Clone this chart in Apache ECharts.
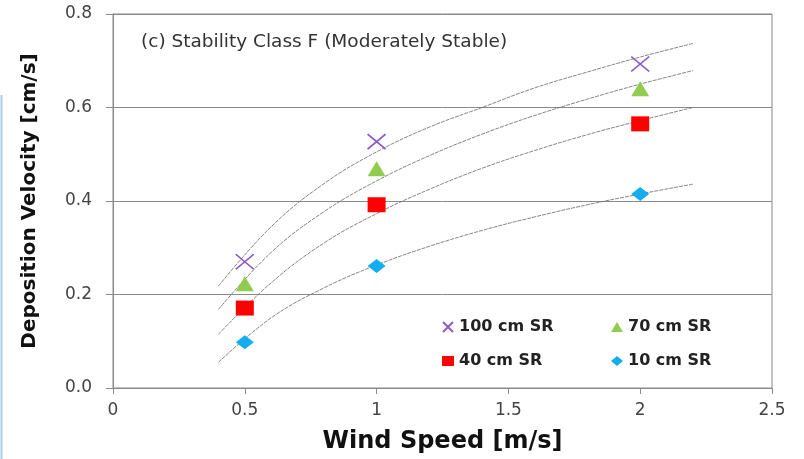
<!DOCTYPE html>
<html>
<head>
<meta charset="utf-8">
<script src="https://cdn.jsdelivr.net/npm/echarts@6/dist/echarts.min.js"></script>
<style>
html,body{margin:0;padding:0;background:#fff;}
#chart{width:804px;height:459px;}
</style>
</head>
<body>
<div id="chart"></div>
<script>
// Measured points
const windSpeed = [0.5, 1, 2];
const sr100 = [0.27, 0.527, 0.693];
const sr70 = [0.223, 0.469, 0.64];
const sr40 = [0.171, 0.392, 0.565];
const sr10 = [0.098, 0.261, 0.415];

// Trend curves
const trendX = [0.4, 0.6, 0.8, 1.0, 1.2, 1.4, 1.6, 1.8, 2.0, 2.2];
const fit100 = [0.218, 0.345, 0.437, 0.505, 0.558, 0.600, 0.642, 0.676, 0.708, 0.737];
const fit70  = [0.168, 0.290, 0.377, 0.443, 0.497, 0.543, 0.583, 0.618, 0.650, 0.679];
const fit40  = [0.115, 0.225, 0.310, 0.373, 0.425, 0.470, 0.508, 0.542, 0.572, 0.600];
const fit10  = [0.055, 0.150, 0.214, 0.263, 0.303, 0.337, 0.366, 0.392, 0.415, 0.436];

const seriesNames = ['100 cm SR', '70 cm SR', '40 cm SR', '10 cm SR'];
const xTicks = [0, 0.5, 1, 1.5, 2, 2.5];
const yTicks = [0, 0.2, 0.4, 0.6, 0.8];

const FONT = 'DejaVu Sans';
const pair = (xs, ys) => xs.map((x, i) => [x, ys[i]]);
const X_PATH = 'path://M0,0L10,10M10,0L0,10';

function trend(ys) {
  return {
    type: 'line', data: pair(trendX, ys), smooth: 0.4, showSymbol: false, silent: true,
    lineStyle: { color: '#666', width: 0.8, type: [4, 1] }, z: 1
  };
}

const chart = echarts.init(document.getElementById('chart'), null, { renderer: 'canvas' });
const legendBase = {
  orient: 'horizontal', padding: 0, itemGap: 0,
  textStyle: { fontFamily: FONT, fontSize: 16, fontWeight: 'bold', color: '#222' }
};
chart.setOption({
  animation: false,
  backgroundColor: '#fff',
  grid: { left: 113, right: 32, top: 14, bottom: 71, show: true, borderColor: '#8a8a8a', borderWidth: 1,
          containLabel: false, outerBoundsMode: 'none' },
  title: {
    text: '(c) Stability Class F (Moderately Stable)', left: 141, top: 33,
    textStyle: { fontFamily: FONT, fontSize: 18.5, fontWeight: 'normal', color: '#333' }, padding: 0
  },
  legend: [
    Object.assign({}, legendBase, { data: [seriesNames[0]], left: 442, top: 319, itemWidth: 12, itemHeight: 10 }),
    Object.assign({}, legendBase, { data: [seriesNames[1]], left: 611, top: 319, itemWidth: 12, itemHeight: 10 }),
    Object.assign({}, legendBase, { data: [seriesNames[2]], left: 442, top: 353, itemWidth: 12, itemHeight: 10 }),
    Object.assign({}, legendBase, { data: [seriesNames[3]], left: 611, top: 353, itemWidth: 12, itemHeight: 10 })
  ],
  xAxis: {
    type: 'value', min: xTicks[0], max: xTicks[xTicks.length - 1], interval: 0.5,
    name: 'Wind Speed [m/s]', nameLocation: 'middle', nameGap: 42,
    nameTextStyle: { fontFamily: FONT, fontSize: 24, fontWeight: 'bold', color: '#111' },
    axisLine: { show: true, lineStyle: { color: '#8a8a8a', width: 1 } },
    axisTick: { show: true, length: 6, lineStyle: { color: '#8a8a8a' } },
    axisLabel: { fontFamily: FONT, fontSize: 17, color: '#444', margin: 14 },
    splitLine: { show: false }
  },
  yAxis: {
    type: 'value', min: yTicks[0], max: yTicks[yTicks.length - 1], interval: 0.2,
    name: 'Deposition Velocity [cm/s]', nameLocation: 'middle', nameGap: 73,
    nameTextStyle: { fontFamily: FONT, fontSize: 20, fontWeight: 'bold', color: '#111' },
    axisLine: { show: true, lineStyle: { color: '#8a8a8a', width: 1 } },
    axisTick: { show: true, length: 7, lineStyle: { color: '#8a8a8a' } },
    axisLabel: { fontFamily: FONT, fontSize: 17, color: '#444', margin: 21, formatter: v => v.toFixed(1) },
    splitLine: { show: true, lineStyle: { color: '#8a8a8a', width: 1 } }
  },
  graphic: [
    { type: 'line', shape: { x1: 1.5, y1: 95, x2: 1.5, y2: 459 }, style: { stroke: '#a9cdee', lineWidth: 2 }, silent: true }
  ],
  series: [
    trend(fit100), trend(fit70), trend(fit40), trend(fit10),
    { name: seriesNames[0], type: 'scatter', data: pair(windSpeed, sr100), symbol: X_PATH, symbolSize: [18, 15],
      itemStyle: { color: 'transparent', borderColor: '#8a5cc6', borderWidth: 1.6, opacity: 1 }, z: 5 },
    { name: seriesNames[1], type: 'scatter', data: pair(windSpeed, sr70), symbol: 'triangle', symbolSize: [18, 15],
      itemStyle: { color: '#92cc4f', opacity: 1 }, z: 5 },
    { name: seriesNames[2], type: 'scatter', data: pair(windSpeed, sr40), symbol: 'rect', symbolSize: [18, 15],
      itemStyle: { color: '#ff0000', opacity: 1 }, z: 5 },
    { name: seriesNames[3], type: 'scatter', data: pair(windSpeed, sr10), symbol: 'diamond', symbolSize: [18, 14],
      itemStyle: { color: '#12aef0', opacity: 1 }, z: 5 }
  ]
});
</script>
</body>
</html>
